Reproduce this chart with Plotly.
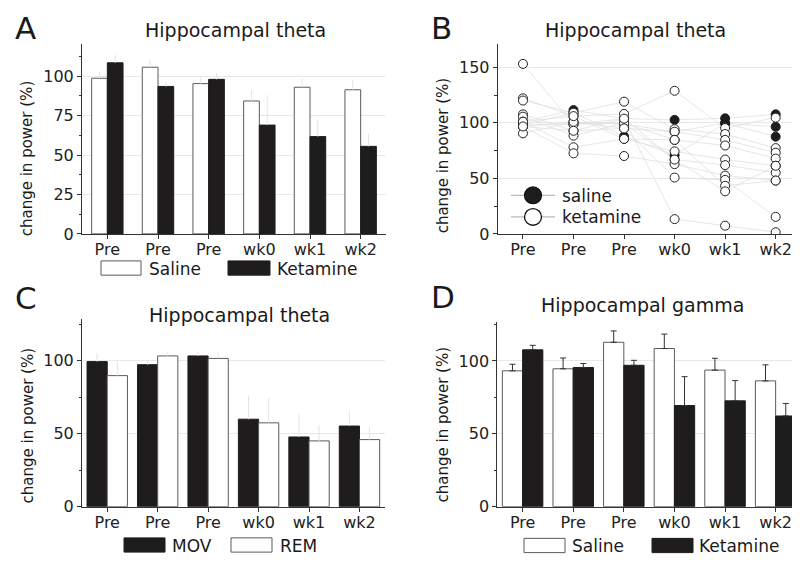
import plotly.graph_objects as go

# ---------------- data ----------------
categories = ["Pre", "Pre", "Pre", "wk0", "wk1", "wk2"]
xpos = [0, 1, 2, 3, 4, 5]

# Panel A: hippocampal theta (saline vs ketamine)
a_saline = [98.7, 105.7, 95.3, 84.3, 93.0, 91.4]
a_ketamine = [108.5, 93.5, 98.0, 69.0, 61.7, 55.5]
a_saline_err = [4.0, 5.0, 4.0, 7.0, 5.6, 6.4]
a_ketamine_err = [5.0, 3.0, 4.0, 19.0, 11.0, 8.0]

# Panel B: individual animals
b_saline = [
    [101.0, 111.4, 103.7, 102.6, 104.0, 107.6],
    [98.0, 109.0, 87.8, 70.7, 99.6, 96.4],
    [96.7, 100.8, 98.7, 92.0, 99.6, 87.5],
]
b_ketamine = [
    [153.0, 98.7, 103.7, 13.3, 7.4, 1.5],
    [122.0, 106.0, 108.0, 128.8, 95.2, 104.6],
    [120.0, 109.0, 119.0, 94.3, 89.9, 77.2],
    [107.6, 92.8, 94.9, 92.0, 84.6, 73.1],
    [105.5, 88.4, 99.6, 84.6, 79.6, 67.8],
    [101.0, 78.0, 85.5, 74.3, 66.9, 61.3],
    [98.0, 98.7, 99.6, 66.9, 61.9, 55.1],
    [96.7, 72.5, 70.1, 62.8, 52.5, 48.0],
    [90.5, 100.8, 94.9, 50.7, 48.6, 15.3],
    [101.0, 106.0, 85.5, 84.6, 43.3, 48.0],
    [96.7, 92.8, 103.7, 66.9, 38.3, 61.3],
]

# Panel C: hippocampal theta (MOV vs REM)
c_mov = [99.5, 97.4, 103.4, 60.0, 47.8, 55.3]
c_rem = [89.9, 103.4, 101.7, 57.5, 45.1, 46.0]
c_mov_err = [5.5, 3.0, 3.0, 16.0, 16.0, 10.5]
c_rem_err = [9.6, 3.0, 4.5, 17.0, 10.6, 8.6]

# Panel D: hippocampal gamma
d_saline = [93.2, 94.6, 112.8, 108.5, 93.7, 86.3]
d_ketamine = [107.6, 95.5, 97.0, 69.4, 72.6, 62.2]
d_saline_err = [4.5, 7.4, 7.8, 9.9, 8.1, 11.0]
d_ketamine_err = [3.1, 2.7, 3.4, 19.8, 13.9, 8.6]

# ---------------- style ----------------
W, H = 800, 561
FONT = "DejaVu Sans"
BLACK = "#1f1c1d"
OUTLINE = "#5a5a5a"
AXC = "#333333"
GRID = "#e8e8e8"
FAINT = "#e4e4e4"


def xp(px):
    return px / W


def yp(py):
    return 1 - py / H


fig = go.Figure()


def bar(x, y, err, fill, line, width, offset, xa, ya, errcolor, errwidth=0):
    return go.Bar(
        x=x, y=y, width=width, offset=offset,
        marker=dict(color=fill, line=dict(color=line, width=1)),
        error_y=dict(type="data", array=err, arrayminus=[0] * len(err),
                     symmetric=False, color=errcolor, thickness=1, width=errwidth),
        xaxis=xa, yaxis=ya, showlegend=False, hoverinfo="skip",
    )


# Panel A
fig.add_trace(bar(xpos, a_saline, a_saline_err, "white", OUTLINE, 0.31, -0.31, "x", "y", FAINT))
fig.add_trace(bar(xpos, a_ketamine, a_ketamine_err, BLACK, BLACK, 0.31, 0.0, "x", "y", FAINT))


# Panel B lines
def lines_of(groups):
    xs, ys = [], []
    for g in groups:
        xs += xpos + [None]
        ys += g + [None]
    return xs, ys


for grp in (b_saline, b_ketamine):
    lx, ly = lines_of(grp)
    fig.add_trace(go.Scatter(x=lx, y=ly, mode="lines",
                             line=dict(color="#e0e0e0", width=0.8),
                             xaxis="x2", yaxis="y2", showlegend=False, hoverinfo="skip"))

sx, sy = [], []
for g in b_saline:
    sx += xpos
    sy += g
fig.add_trace(go.Scatter(x=sx, y=sy, mode="markers",
                         marker=dict(size=9, color=BLACK, line=dict(color=BLACK, width=1)),
                         xaxis="x2", yaxis="y2", showlegend=False, hoverinfo="skip"))
kx, ky = [], []
for g in b_ketamine:
    kx += xpos
    ky += g
fig.add_trace(go.Scatter(x=kx, y=ky, mode="markers",
                         marker=dict(size=9, color="white", line=dict(color="#222", width=1)),
                         xaxis="x2", yaxis="y2", showlegend=False, hoverinfo="skip"))

# Panel C
fig.add_trace(bar(xpos, c_mov, c_mov_err, BLACK, BLACK, 0.4, -0.4, "x3", "y3", FAINT))
fig.add_trace(bar(xpos, c_rem, c_rem_err, "white", OUTLINE, 0.4, 0.0, "x3", "y3", FAINT))

# Panel D
fig.add_trace(bar(xpos, d_saline, d_saline_err, "white", OUTLINE, 0.4, -0.4, "x4", "y4", "#333", 3))
fig.add_trace(bar(xpos, d_ketamine, d_ketamine_err, BLACK, BLACK, 0.4, 0.0, "x4", "y4", "#333", 3))


def xaxis(domain, rng, anchor):
    return dict(domain=domain, range=rng, anchor=anchor,
                tickmode="array", tickvals=xpos, ticktext=categories,
                ticks="outside", ticklen=4, tickcolor=AXC, ticklabelstandoff=-3,
                showline=True, linecolor=AXC, linewidth=1,
                showgrid=False, zeroline=False,
                tickfont=dict(family=FONT, size=16, color="#222"))


def yaxis(domain, rng, anchor, dtick):
    return dict(domain=domain, range=rng, anchor=anchor,
                tickmode="linear", tick0=0, dtick=dtick,
                ticks="outside", ticklen=4, tickcolor=AXC,
                minor=dict(dtick=dtick / 2, ticks="outside", ticklen=2.5,
                           tickcolor=AXC, showgrid=False),
                showline=True, linecolor=AXC, linewidth=1,
                showgrid=True, gridcolor=GRID, gridwidth=1, zeroline=False,
                tickfont=dict(family=FONT, size=16, color="#222"))


fig.update_layout(
    width=W, height=H,
    margin=dict(l=0, r=0, t=0, b=0),
    paper_bgcolor="white", plot_bgcolor="white",
    barmode="overlay",
    showlegend=False,
    font=dict(family=FONT, color="#222"),
    xaxis=xaxis([xp(74), xp(378)], [-0.5, 5.5], "y"),
    yaxis=yaxis([yp(230), yp(37)], [0, 120.2], "x", 25),
    xaxis2=xaxis([xp(489.7), xp(798)], [-0.5, 5.6], "y2"),
    yaxis2=yaxis([yp(230), yp(37)], [0, 170.6], "x2", 50),
    xaxis3=xaxis([xp(74), xp(376.7)], [-0.5, 5.5], "y3"),
    yaxis3=yaxis([yp(507.7), yp(316.7)], [0, 128.7], "x3", 50),
    xaxis4=xaxis([xp(489.3), xp(798)], [-0.5, 5.6], "y4"),
    yaxis4=yaxis([yp(507.7), yp(320)], [0, 126.5], "x4", 50),
)

ann = []


def text(t, x, y, size, xanchor="left", angle=0):
    ann.append(dict(text=t, x=xp(x), y=yp(y), xref="paper", yref="paper",
                    xanchor=xanchor, yanchor="middle", showarrow=False,
                    textangle=angle, font=dict(family=FONT, size=size, color="#1a1a1a")))


# panel letters
text("A", 5, 20, 31)
text("B", 421, 20, 31)
text("C", 5, 295, 31)
text("D", 421, 294, 31)
# titles
text("Hippocampal theta", 228, 22.5, 19, "center")
text("Hippocampal theta", 627, 22.5, 19, "center")
text("Hippocampal theta", 232, 312.5, 19, "center")
text("Hippocampal gamma", 634, 302, 19, "center")
# y titles
for (x, y) in [(19, 153), (435, 150), (20, 425), (435, 424)]:
    text("change in power (%)", x, y, 15, "center", -90)

shapes = []


def box(x0, x1, y0, y1, fill, line):
    shapes.append(dict(type="rect", xref="paper", yref="paper",
                       x0=xp(x0), x1=xp(x1), y0=yp(y1), y1=yp(y0),
                       fillcolor=fill, line=dict(color=line, width=1), layer="above"))


# legend A
box(93, 133, 257.5, 272, "white", OUTLINE)
text("Saline", 139, 265.5, 17)
box(220, 262, 257.5, 272, BLACK, BLACK)
text("Ketamine", 267, 265.5, 17)
# legend C
box(116, 157, 539.5, 554, BLACK, BLACK)
text("MOV", 162, 547.5, 17)
box(223, 264, 539.5, 554, "white", OUTLINE)
text("REM", 270, 547.5, 17)
# legend D
box(516, 557, 540, 554.5, "white", OUTLINE)
text("Saline", 562, 548, 17)
box(644, 685, 540, 554.5, BLACK, BLACK)
text("Ketamine", 689, 548, 17)

# legend B
for cy, fill in [(190.7, BLACK), (212.7, "white")]:
    shapes.append(dict(type="line", xref="paper", yref="paper",
                       x0=xp(503), x1=xp(547), y0=yp(cy), y1=yp(cy),
                       line=dict(color="#aaaaaa", width=1), layer="above"))
    shapes.append(dict(type="circle", xref="paper", yref="paper",
                       x0=xp(516.5), x1=xp(533.5), y0=yp(cy + 8.5), y1=yp(cy - 8.5),
                       fillcolor=fill, line=dict(color="#111", width=1.3), layer="above"))
text("saline", 552, 191, 17)
text("ketamine", 552, 213, 17)

fig.update_layout(annotations=ann, shapes=shapes)
fig.write_html("out.html")
